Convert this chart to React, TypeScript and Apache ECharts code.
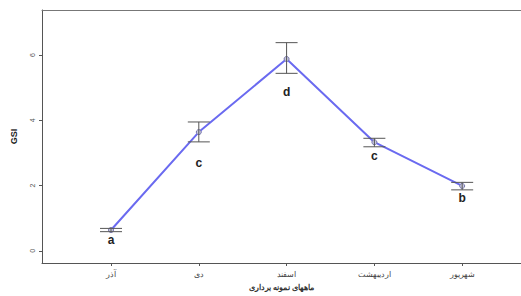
import React, { useEffect, useRef } from "react";
import * as echarts from "echarts";

const categories = ["آذر", "دی", "اسفند", "اردیبهشت", "شهریور"];
const gsiMean = [0.64, 3.64, 5.88, 3.33, 1.99];
const gsiLower = [0.59, 3.34, 5.44, 3.19, 1.87];
const gsiUpper = [0.69, 3.95, 6.38, 3.45, 2.1];
const letters = ["a", "c", "d", "c", "b"];
const letterY = [0.32, 2.7, 4.88, 2.92, 1.62];
const yTicks = [0, 2, 4, 6];
const xTitle = "ماههای نمونه برداری";
const yTitle = "GSI";

export default function App() {
  const ref = useRef<HTMLDivElement>(null);
  useEffect(() => {
    if (!ref.current) return;
    const chart = echarts.init(ref.current, undefined, { renderer: "svg" });
    const idx = categories.map((_, i) => i);
    const xMin = -0.786;
    const xMax = 4.67;
    chart.setOption({
      animation: false,
      backgroundColor: "#ffffff",
      grid: {
        left: 42,
        top: 10,
        right: 0,
        bottom: 33,
        show: false,
      },
      xAxis: [
        {
          type: "value",
          min: xMin,
          max: xMax,
          name: xTitle,
          nameLocation: "middle",
          nameGap: 20,
          nameTextStyle: {
            fontFamily: "Liberation Sans, Arial",
            fontSize: 8,
            fontWeight: "bold",
            color: "#333",
          },
          axisLine: { show: true, onZero: false, lineStyle: { color: "#555", width: 1 } },
          splitLine: { show: false },
          axisTick: {
            show: true,
            length: 3,
            customValues: idx,
            lineStyle: { color: "#555" },
          },
          axisLabel: {
            customValues: idx,
            fontFamily: "Liberation Sans, Arial",
            fontSize: 8,
            color: "#444",
            margin: 7,
            formatter: (v: number) => categories[Math.round(v)] ?? "",
          },
        },
        {
          type: "value",
          position: "top",
          min: xMin,
          max: xMax,
          axisLine: { show: true, onZero: false, lineStyle: { color: "#777", width: 1 } },
          axisTick: { show: false },
          axisLabel: { show: false },
          splitLine: { show: false },
        },
      ],
      yAxis: {
        type: "value",
        min: -0.37,
        max: 7.38,
        name: yTitle,
        nameLocation: "middle",
        nameGap: 24,
        nameRotate: 90,
        nameTextStyle: {
          fontFamily: "Liberation Sans, Arial",
          fontSize: 9,
          fontWeight: "bold",
          color: "#222",
        },
        axisLine: { show: true, onZero: false, lineStyle: { color: "#555", width: 1 } },
        splitLine: { show: false },
        axisTick: {
          show: true,
          length: 3,
          customValues: yTicks,
          lineStyle: { color: "#555" },
        },
        axisLabel: {
          customValues: yTicks,
          rotate: 90,
          fontFamily: "Liberation Sans, Arial",
          fontSize: 7,
          color: "#555",
          margin: 6,
        },
      },
      series: [
        {
          type: "line",
          data: gsiMean.map((v, i) => [i, v]),
          lineStyle: { color: "#6a6af0", width: 2 },
          symbol: "circle",
          symbolSize: 5,
          itemStyle: { color: "#c8c8e0", borderColor: "#7777aa", borderWidth: 1 },
          z: 2,
        },
        {
          type: "custom",
          z: 3,
          data: gsiMean.map((_, i) => [i, gsiLower[i], gsiUpper[i], letterY[i]]),
          renderItem: (params: any, api: any) => {
            const x = api.value(0);
            const lo = api.coord([x, api.value(1)]);
            const hi = api.coord([x, api.value(2)]);
            const lab = api.coord([x, api.value(3)]);
            const hw = 11;
            const style = { stroke: "#555", lineWidth: 1 };
            return {
              type: "group",
              children: [
                { type: "line", shape: { x1: lo[0], y1: lo[1], x2: hi[0], y2: hi[1] }, style },
                { type: "line", shape: { x1: lo[0] - hw, y1: lo[1], x2: lo[0] + hw, y2: lo[1] }, style },
                { type: "line", shape: { x1: hi[0] - hw, y1: hi[1], x2: hi[0] + hw, y2: hi[1] }, style },
                {
                  type: "text",
                  x: lab[0],
                  y: lab[1],
                  style: {
                    text: letters[params.dataIndex],
                    fill: "#222",
                    font: "bold 12px Liberation Sans, Arial",
                    align: "center",
                    verticalAlign: "middle",
                  },
                },
              ],
            };
          },
        },
      ],
    });
    return () => chart.dispose();
  }, []);
  return (
    <div
      ref={ref}
      style={{ position: "fixed", left: 0, top: 0, width: 521, height: 296 }}
    />
  );
}
